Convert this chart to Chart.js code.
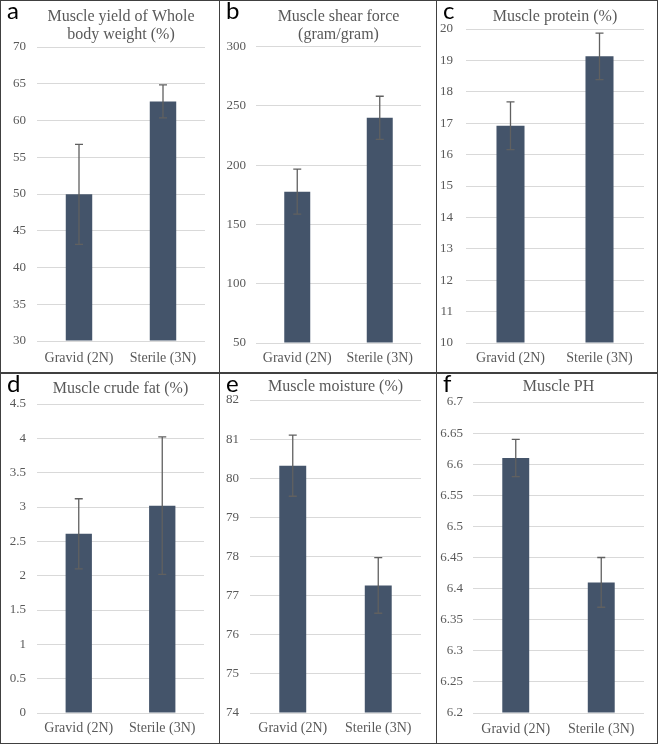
<!DOCTYPE html>
<html>
<head>
<meta charset="utf-8">
<script src="https://cdn.jsdelivr.net/npm/chart.js@4.4.1/dist/chart.umd.min.js"></script>
<style>
  body { margin: 0; background: #fff; }
  #fig { position: relative; width: 660px; height: 747px; }
  .panel { position: absolute; box-sizing: border-box; border: 1px solid #404040; }
  .panel .box { position: relative; width: 100%; height: 100%; }
  .letter { position: absolute; left: 6px; top: -6px; font: 24px Lato, sans-serif; color: #000; }
</style>
</head>
<body>
<div id="fig"></div>
<script>
// group names on the x axis
const categories = ['Gravid (2N)', 'Sterile (3N)'];

const panelLetters = ['a', 'b', 'c', 'd', 'e', 'f'];
const panelTitles = [
    ['Muscle yield of Whole', 'body weight (%)'],
    ['Muscle shear force', '(gram/gram)'],
    'Muscle protein (%)',
    'Muscle crude fat (%)',
    'Muscle moisture (%)',
    'Muscle PH'
];

// means and standard deviations
const yieldMean = [49.95, 62.6];
const yieldSd = [6.8, 2.25];
const shearMean = [177.7, 240];
const shearSd = [19, 18.2];
const proteinMean = [16.92, 19.13];
const proteinSd = [0.76, 0.74];
const fatMean = [2.61, 3.02];
const fatSd = [0.51, 1.0];
const moistureMean = [80.32, 77.26];
const moistureSd = [0.78, 0.71];
const phMean = [6.61, 6.41];
const phSd = [0.03, 0.04];

// y axis ranges
const axisMin = [30, 50, 10, 0, 74, 6.2];
const axisMax = [70, 300, 20, 4.5, 82, 6.7];
const axisStep = [5, 50, 1, 0.5, 1, 0.05];

const means = [yieldMean, shearMean, proteinMean, fatMean, moistureMean, phMean];
const sds = [yieldSd, shearSd, proteinSd, fatSd, moistureSd, phSd];

// panel frames and inner layout (pixels)
const frames = [
    { left: 0,   top: 0,   w: 220, h: 373, yw: 36, padR: 14, xh: 31, tPad: [6.5, 3.5], yPad: 11, xPad: 8.6 },
    { left: 219, top: 0,   w: 218, h: 373, yw: 36, padR: 15, xh: 29, tPad: [6.5, 3.2], yPad: 10, xPad: 6.6 },
    { left: 436, top: 0,   w: 222, h: 373, yw: 29, padR: 13, xh: 29, tPad: [7, 3],     yPad: 13, xPad: 7.2 },
    { left: 0,   top: 373, w: 220, h: 371, yw: 36, padR: 15, xh: 30, tPad: [5.5, 6.5], yPad: 11, xPad: 6.6 },
    { left: 219, top: 373, w: 218, h: 371, yw: 30, padR: 15, xh: 30, tPad: [4, 4],     yPad: 11, xPad: 6.6 },
    { left: 436, top: 373, w: 222, h: 371, yw: 36, padR: 13, xh: 30, tPad: [4, 6],     yPad: 10, xPad: 8.3 }
];

const serif = "'Times New Roman', 'Liberation Serif', serif";
const textGray = '#595959';

const errorBars = {
    id: 'errorBars',
    afterDatasetsDraw(chart, _args, opts) {
        const ctx = chart.ctx;
        const y = chart.scales.y;
        const meta = chart.getDatasetMeta(0);
        const mean = chart.data.datasets[0].data;
        ctx.save();
        ctx.strokeStyle = '#606060';
        ctx.lineWidth = 1.3;
        meta.data.forEach((bar, i) => {
            const top = y.getPixelForValue(mean[i] + opts.sd[i]);
            const bot = y.getPixelForValue(mean[i] - opts.sd[i]);
            ctx.beginPath();
            ctx.moveTo(bar.x, top);
            ctx.lineTo(bar.x, bot);
            ctx.moveTo(bar.x - 4, top);
            ctx.lineTo(bar.x + 4, top);
            ctx.moveTo(bar.x - 4, bot);
            ctx.lineTo(bar.x + 4, bot);
            ctx.stroke();
        });
        ctx.restore();
    }
};

const fig = document.getElementById('fig');

frames.forEach((f, k) => {
    const panel = document.createElement('div');
    panel.className = 'panel';
    panel.style.left = f.left + 'px';
    panel.style.top = f.top + 'px';
    panel.style.width = f.w + 'px';
    panel.style.height = f.h + 'px';
    const box = document.createElement('div');
    box.className = 'box';
    const canvas = document.createElement('canvas');
    box.appendChild(canvas);
    panel.appendChild(box);
    const letter = document.createElement('div');
    letter.className = 'letter';
    letter.textContent = panelLetters[k];
    panel.appendChild(letter);
    fig.appendChild(panel);

    new Chart(canvas, {
        type: 'bar',
        data: {
            labels: categories,
            datasets: [{
                data: means[k],
                backgroundColor: '#44546a',
                barPercentage: 0.315,
                categoryPercentage: 1,
                base: axisMin[k]
            }]
        },
        plugins: [errorBars],
        options: {
            responsive: true,
            maintainAspectRatio: false,
            animation: false,
            devicePixelRatio: 1,
            layout: { padding: { left: 0, right: f.padR, top: 0, bottom: 0 } },
            plugins: {
                legend: { display: false },
                tooltip: { enabled: false },
                title: {
                    display: true,
                    text: panelTitles[k],
                    color: textGray,
                    fullSize: false,
                    font: { family: serif, size: 16, weight: 'normal', lineHeight: 1.125 },
                    padding: { top: f.tPad[0], bottom: f.tPad[1] }
                },
                errorBars: { sd: sds[k] }
            },
            scales: {
                x: {
                    grid: { display: false, drawTicks: false },
                    border: { display: false },
                    ticks: {
                        color: textGray,
                        padding: f.xPad,
                        font: { family: serif, size: 14, lineHeight: 1.2 }
                    },
                    afterFit: s => { s.height = f.xh; }
                },
                y: {
                    min: axisMin[k],
                    max: axisMax[k],
                    grid: { color: '#d9d9d9', lineWidth: 1, drawTicks: false },
                    border: { display: false },
                    ticks: {
                        stepSize: axisStep[k],
                        color: textGray,
                        padding: f.yPad,
                        font: { family: serif, size: 13 },
                        callback: v => String(+v.toFixed(2))
                    },
                    afterFit: s => { s.width = f.yw; }
                }
            }
        }
    });
});
</script>
</body>
</html>
